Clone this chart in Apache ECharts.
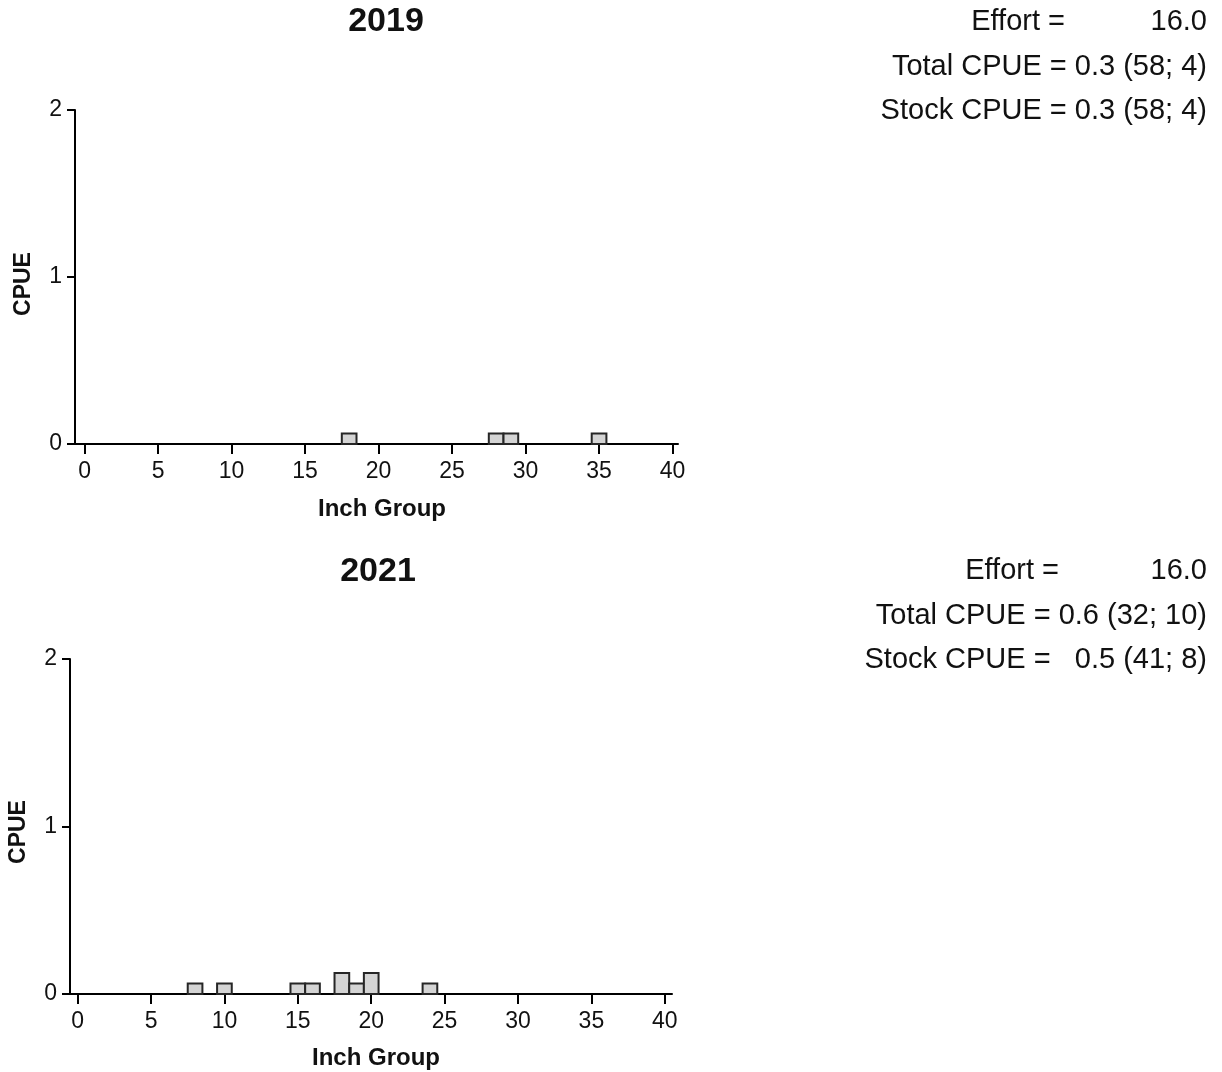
<!DOCTYPE html>
<html>
<head>
<meta charset="utf-8">
<script src="https://cdn.jsdelivr.net/npm/echarts@6/dist/echarts.min.js"></script>
<style>
  html, body { margin: 0; padding: 0; background: #ffffff; }
  #chart { width: 1222px; height: 1072px; }
</style>
</head>
<body>
<div id="chart"></div>
<script>
// Length-frequency of catch per unit effort, by inch group
const years = ['2019', '2021'];
const inch2019 = [18, 28, 29, 35];
const cpue2019 = [0.0625, 0.0625, 0.0625, 0.0625];
const inch2021 = [8, 10, 15, 16, 18, 19, 20, 24];
const cpue2021 = [0.0625, 0.0625, 0.0625, 0.0625, 0.125, 0.0625, 0.125, 0.0625];
const xTicks = [0, 5, 10, 15, 20, 25, 30, 35, 40];

// Summary statistics shown beside each panel
const effortValues = ['16.0', '16.0'];
const totalCpueText = ['Total CPUE = 0.3 (58; 4)', 'Total CPUE = 0.6 (32; 10)'];
const stockCpueText = ['Stock CPUE = 0.3 (58; 4)', 'Stock CPUE =   0.5 (41; 8)'];

const panels = [
  { inch: inch2019, cpue: cpue2019 },
  { inch: inch2021, cpue: cpue2021 }
];

const FONT = "'Liberation Sans', Arial, sans-serif";

const gridBoxes = [
  { left: 75, top: 110, width: 603, height: 334 },
  { left: 70, top: 659, width: 602, height: 335 }
];
const xRanges = [
  { min: -0.65, max: 40.37 },
  { min: -0.52, max: 40.49 }
];
const titlePos = [{ x: 386, y: 22 }, { x: 378, y: 572 }];
const statTop = [22, 571];
const effortLabelRight = [1065, 1059];
const yNamePos = [{ x: 24, y: 284 }, { x: 19, y: 832 }];
const xNamePos = [{ x: 382, y: 509 }, { x: 376, y: 1058 }];

const chart = echarts.init(document.getElementById('chart'), null, { renderer: 'canvas' });

function barRenderer(params, api) {
  const x = api.value(0);
  const y = api.value(1);
  const p0 = api.coord([x - 0.5, y]);
  const p1 = api.coord([x + 0.5, 0]);
  return {
    type: 'rect',
    shape: { x: p0[0], y: p0[1], width: p1[0] - p0[0], height: p1[1] - p0[1] },
    style: { fill: '#d4d4d4', stroke: '#262626', lineWidth: 2 }
  };
}

const grid = gridBoxes.map(g => Object.assign({ containLabel: false }, g));

const xAxis = panels.map((p, i) => ({
  type: 'value',
  gridIndex: i,
  min: xRanges[i].min,
  max: xRanges[i].max,
  splitLine: { show: false },
  axisLine: { show: true, onZero: false, lineStyle: { color: '#000', width: 2 } },
  axisTick: { show: true, customValues: xTicks, length: 10, lineStyle: { color: '#000', width: 2 } },
  axisLabel: { customValues: xTicks, color: '#111', fontFamily: FONT, fontSize: 23, margin: 16 }
}));

const yAxis = panels.map((p, i) => ({
  type: 'value',
  gridIndex: i,
  min: 0,
  max: 2,
  interval: 1,
  splitLine: { show: false },
  axisLine: { show: true, onZero: false, lineStyle: { color: '#000', width: 2 } },
  axisTick: { show: true, length: 8, lineStyle: { color: '#000', width: 2 } },
  axisLabel: { color: '#111', fontFamily: FONT, fontSize: 23, margin: 13 }
}));

const series = panels.map((p, i) => ({
  type: 'custom',
  xAxisIndex: i,
  yAxisIndex: i,
  renderItem: barRenderer,
  encode: { x: 0, y: 1 },
  data: p.inch.map((v, k) => [v, p.cpue[k]]),
  silent: true
}));

const title = years.map((yr, i) => ({
  text: yr,
  left: titlePos[i].x,
  top: titlePos[i].y,
  textAlign: 'center',
  textVerticalAlign: 'middle',
  padding: 0,
  textStyle: { fontFamily: FONT, fontWeight: 'bold', fontSize: 34, color: '#111' }
}));

const graphic = [];
years.forEach((yr, i) => {
  const t = statTop[i];
  const base = { fontFamily: FONT, fontSize: 29, fill: '#111', textVerticalAlign: 'middle' };
  graphic.push({ type: 'text', x: effortLabelRight[i], y: t,
    style: Object.assign({ text: 'Effort =', textAlign: 'right' }, base) });
  graphic.push({ type: 'text', x: 1207, y: t,
    style: Object.assign({ text: effortValues[i], textAlign: 'right' }, base) });
  graphic.push({ type: 'text', x: 1207, y: t + 44.5,
    style: Object.assign({ text: totalCpueText[i], textAlign: 'right' }, base) });
  graphic.push({ type: 'text', x: 1207, y: t + 89,
    style: Object.assign({ text: stockCpueText[i], textAlign: 'right' }, base) });

  // axis titles
  graphic.push({ type: 'text', x: yNamePos[i].x, y: yNamePos[i].y, rotation: Math.PI / 2,
    style: { text: 'CPUE', fontFamily: FONT, fontWeight: 'bold', fontSize: 23, fill: '#111',
      textAlign: 'center', textVerticalAlign: 'middle' } });
  graphic.push({ type: 'text', x: xNamePos[i].x, y: xNamePos[i].y,
    style: { text: 'Inch Group', fontFamily: FONT, fontWeight: 'bold', fontSize: 24, fill: '#111',
      textAlign: 'center', textVerticalAlign: 'middle' } });
});

chart.setOption({
  animation: false,
  backgroundColor: '#ffffff',
  title,
  grid,
  xAxis,
  yAxis,
  series,
  graphic
});
</script>
</body>
</html>
